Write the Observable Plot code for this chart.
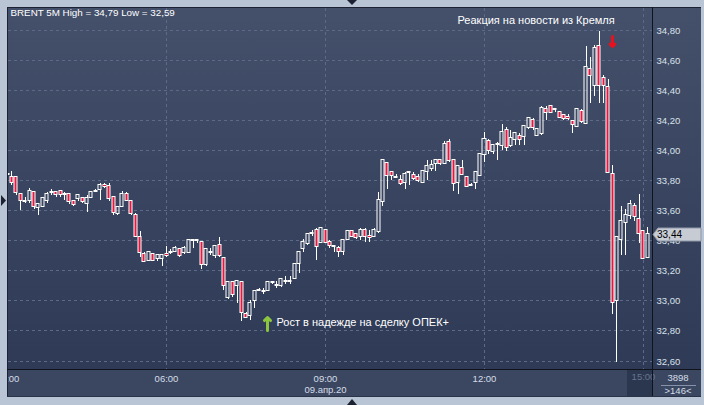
<!DOCTYPE html>
<html><head><meta charset="utf-8">
<script src="https://cdn.jsdelivr.net/npm/d3@7"></script>
<script src="https://cdn.jsdelivr.net/npm/@observablehq/plot@0.6"></script>
<style>
html,body{margin:0;padding:0;background:#b9c5d5;overflow:hidden;}
#chart{width:704px;height:405px;}
</style></head><body><div id="chart"></div>
<script>
// ---- data: BRENT 5-minute candles, 09.04.2020, 03:00 .. 15:05 ----
const startTime = Date.UTC(2020, 3, 9, 3, 0);
const stepMinutes = 5;
const opens = [33.84,33.82,33.82,33.71,33.66,33.67,33.72,33.62,33.63,33.67,
33.72,33.72,33.73,33.71,33.71,33.66,33.68,33.68,33.65,33.69,
33.73,33.74,33.77,33.76,33.69,33.58,33.63,33.71,33.66,33.57,
33.42,33.31,33.27,33.31,33.28,33.28,33.31,33.32,33.33,33.34,
33.32,33.32,33.40,33.40,33.39,33.24,33.32,33.30,33.37,33.28,
33.02,33.12,33.10,33.12,32.91,32.90,33.00,33.07,33.06,33.07,
33.12,33.10,33.10,33.13,33.13,33.15,33.25,33.35,33.38,33.45,
33.47,33.39,33.47,33.39,33.36,33.35,33.33,33.41,33.46,33.44,
33.43,33.47,33.43,33.43,33.46,33.66,33.91,33.85,33.82,33.80,
33.79,33.85,33.83,33.82,33.79,33.86,33.88,33.91,33.93,33.91,
34.05,33.93,33.79,33.88,33.82,33.77,33.79,33.83,33.97,34.06,
33.99,34.04,34.03,34.13,34.03,34.07,34.09,34.09,34.15,34.20,
34.10,34.11,34.27,34.29,34.27,34.25,34.23,34.22,34.19,34.16,
34.26,34.18,34.54,34.43,34.69,34.48,34.42,33.84,33.00,33.41,
33.52,33.57,33.63,33.54,33.46,33.29];
const highs = [33.85,33.86,33.82,33.71,33.69,33.75,33.72,33.65,33.68,33.72,
33.74,33.73,33.73,33.72,33.71,33.67,33.71,33.69,33.70,33.72,
33.74,33.78,33.78,33.78,33.69,33.62,33.73,33.72,33.66,33.58,
33.46,33.32,33.32,33.31,33.30,33.31,33.36,33.34,33.36,33.35,
33.36,33.40,33.40,33.41,33.39,33.35,33.35,33.36,33.42,33.29,
33.12,33.12,33.13,33.12,32.92,33.00,33.07,33.08,33.08,33.12,
33.13,33.13,33.15,33.16,33.16,33.25,33.33,33.41,33.45,33.47,
33.48,33.49,33.47,33.40,33.37,33.36,33.41,33.47,33.47,33.44,
33.48,33.48,33.47,33.48,33.72,33.93,33.92,33.86,33.84,33.83,
33.85,33.86,33.85,33.84,33.86,33.93,33.93,33.94,33.94,34.06,
34.07,33.93,33.89,33.93,33.82,33.78,33.86,33.98,34.12,34.07,
34.03,34.05,34.17,34.15,34.13,34.11,34.11,34.16,34.21,34.21,
34.14,34.29,34.29,34.30,34.28,34.25,34.24,34.24,34.20,34.27,
34.27,34.69,34.62,34.70,34.79,34.50,34.47,33.90,33.42,33.63,
33.61,33.67,33.65,33.71,33.46,33.49];
const lows = [33.83,33.77,33.70,33.60,33.65,33.65,33.61,33.57,33.62,33.65,
33.70,33.69,33.69,33.67,33.64,33.63,33.66,33.65,33.59,33.68,
33.72,33.67,33.75,33.66,33.57,33.57,33.63,33.67,33.57,33.42,
33.29,33.26,33.26,33.26,33.26,33.23,33.29,33.31,33.32,33.29,
33.31,33.32,33.35,33.38,33.21,33.23,33.30,33.28,33.29,33.07,
33.01,33.02,32.98,32.86,32.88,32.87,32.95,33.06,33.04,33.07,
33.11,33.08,33.09,33.11,33.11,33.15,33.18,33.32,33.37,33.43,
33.27,33.38,33.38,33.35,33.32,33.29,33.30,33.41,33.43,33.41,
33.40,33.39,33.39,33.42,33.45,33.63,33.74,33.80,33.81,33.77,
33.74,33.77,33.80,33.79,33.78,33.80,33.86,33.86,33.90,33.91,
33.92,33.73,33.71,33.83,33.76,33.76,33.74,33.83,33.92,33.97,
33.97,33.93,34.00,33.99,34.02,34.03,34.03,34.03,34.14,34.13,
34.10,34.10,34.20,34.25,34.25,34.21,34.20,34.20,34.11,34.16,
34.18,34.18,34.31,34.36,34.31,34.31,33.85,32.91,32.59,33.30,
33.30,33.54,33.53,33.38,33.28,33.29];
const closes = [33.84,33.79,33.72,33.67,33.66,33.73,33.63,33.64,33.68,33.71,
33.72,33.71,33.71,33.71,33.66,33.64,33.70,33.66,33.68,33.72,
33.73,33.77,33.76,33.68,33.59,33.62,33.71,33.67,33.58,33.43,
33.32,33.26,33.32,33.27,33.30,33.30,33.30,33.32,33.35,33.30,
33.35,33.40,33.40,33.40,33.24,33.34,33.32,33.36,33.30,33.10,
33.12,33.04,33.13,32.92,32.89,32.98,33.06,33.07,33.06,33.12,
33.12,33.10,33.14,33.13,33.13,33.24,33.32,33.39,33.44,33.45,
33.36,33.48,33.39,33.37,33.36,33.33,33.40,33.46,33.43,33.42,
33.47,33.43,33.42,33.47,33.67,33.93,33.83,33.83,33.82,33.78,
33.84,33.85,33.81,33.80,33.86,33.89,33.90,33.93,33.91,34.04,
33.93,33.78,33.89,33.84,33.76,33.77,33.85,33.97,34.07,34.00,
34.03,34.04,34.12,34.02,34.08,34.11,34.07,34.16,34.21,34.15,
34.14,34.28,34.25,34.25,34.27,34.22,34.21,34.21,34.17,34.27,
34.19,34.55,34.50,34.68,34.43,34.43,33.85,32.99,33.42,33.53,
33.57,33.64,33.56,33.45,33.28,33.44];

const priceTicks = [32.6,32.8,33.0,33.2,33.4,33.6,33.8,34.0,34.2,34.4,34.6,34.8];
const timeTickLabels = ["03:00","06:00","09:00","12:00"];
const dimTimeTickLabels = ["15:00"];
const gridTimeLabels = ["06:00","09:00","12:00","15:00"];
const dateLabel = "09.апр.20";
const headerText = "BRENT 5M High = 34,79 Low = 32,59";
const noteTexts = ["Реакция на новости из Кремля", "Рост в надежде на сделку ОПЕК+"];
const noteTimes = ["11:29", "08:05"];
const notePrices = [34.863, 32.856];
const arrowTimes = ["14:25", "07:54"];
const arrowTails = [34.760, 32.805];
const arrowTips = [34.690, 32.892];
const arrowColors = ["#e8121e", "#8cc63f"];
const barCount = "3898";
const visibleCount = ">146<";

// ---- build ----
const T = s => new Date(Date.UTC(2020, 3, 9, +s.slice(0, 2), +s.slice(3, 5)));
const candles = opens.map((o, i) => ({
  date: new Date(startTime + i * stepMinutes * 60000),
  open: o, high: highs[i], low: lows[i], close: closes[i],
  top: Math.max(o, closes[i]), bot: Math.min(o, closes[i])
}));
const halfBody = 101900;
const notes = noteTexts.map((t, i) => ({text: t, date: T(noteTimes[i]), price: notePrices[i]}));
const arrows = arrowTimes.map((t, i) => ({date: T(t), y1: arrowTails[i], y2: arrowTips[i], color: arrowColors[i]}));
const fmtComma = d => d.toFixed(2).replace(".", ",");
const fmtTime = d => { const s = d3.utcFormat("%H:%M")(d); return s === "09:00" ? s + "\n" + dateLabel : s; };
const FONT = "'Liberation Sans', Arial, sans-serif";
const RED = "#e6183f";

const plot = Plot.plot({
  width: 704, height: 405,
  marginLeft: 8, marginRight: 52, marginTop: 8, marginBottom: 36,
  style: {background: "transparent", fontFamily: FONT, fontSize: "9.5px", color: "#dbe1ea"},
  x: {type: "utc", round: true, domain: [new Date(Date.UTC(2020,3,9,3,1,6)), new Date(Date.UTC(2020,3,9,15,10,12))]},
  y: {round: true, domain: [32.544, 34.943]},
  marks: [
    Plot.ruleY(priceTicks, {stroke: "#5c6a88", strokeDasharray: "3,3"}),
    Plot.ruleX(gridTimeLabels.map(T), {stroke: "#5c6a88", strokeDasharray: "3,3"}),
    Plot.ruleX(candles, {x: "date", y1: "top", y2: "high", stroke: "white"}),
    Plot.ruleX(candles, {x: "date", y1: "low", y2: "bot", stroke: "white"}),
    Plot.rect(candles.filter(d => d.close < d.open), {
      x1: d => new Date(+d.date - halfBody), x2: d => new Date(+d.date + halfBody),
      y1: "open", y2: "close", fill: RED, stroke: "white", strokeWidth: 1,
      insetTop: -0.5, insetBottom: -0.5}),
    Plot.rect(candles.filter(d => d.close >= d.open), {
      x1: d => new Date(+d.date - halfBody), x2: d => new Date(+d.date + halfBody),
      y1: "open", y2: "close", fill: "none", stroke: "white", strokeWidth: 1,
      insetTop: -0.5, insetBottom: -0.5}),
    Plot.text(notes, {x: "date", y: "price", text: "text", textAnchor: "start", fill: "white", fontSize: 11}),
    Plot.arrow(arrows, {x1: "date", x2: "date", y1: "y1", y2: "y2", stroke: "color", strokeWidth: 3, headLength: 6, headAngle: 90}),
    Plot.text([headerText], {frameAnchor: "top-left", dx: 2, dy: 1, lineAnchor: "top", textAnchor: "start", fill: "white", fontSize: 9.8}),
    Plot.axisY(priceTicks, {anchor: "right", tickSize: 0, tickPadding: 4, tickFormat: fmtComma, fill: "#dbe1ea", fontSize: 9.5}),
    Plot.axisX(timeTickLabels.map(T), {anchor: "bottom", tickSize: 0, tickPadding: 4, tickFormat: fmtTime, fill: "#d6dde8", fontSize: 9.5, lineHeight: 1.2}),
    Plot.axisX(dimTimeTickLabels.map(T), {anchor: "bottom", tickSize: 0, tickPadding: 4, tickFormat: fmtTime, fill: "#66758f", fontSize: 9.5})
  ]
});
document.getElementById("chart").appendChild(plot);

// ---- chrome (panel styling) ----
const svg = d3.select(plot);
svg.style("background", "linear-gradient(#45516b, #2c3854)");
const first = plot.firstChild;
svg.insert("rect", () => first).attr("x", 8).attr("y", 369).attr("width", 693).attr("height", 28).attr("fill", "#3b4761");
svg.insert("rect", () => first).attr("x", 627).attr("y", 369).attr("width", 25).attr("height", 28).attr("fill", "#2b374f");

const frameColor = "#b9c5d5";
const g = svg.append("g").attr("text-anchor", "start");
g.append("rect").attr("x", 0).attr("y", 0).attr("width", 704).attr("height", 7).attr("fill", frameColor);
g.append("rect").attr("x", 0).attr("y", 0).attr("width", 7).attr("height", 405).attr("fill", frameColor);
g.append("rect").attr("x", 701).attr("y", 0).attr("width", 3).attr("height", 405).attr("fill", frameColor);
g.append("rect").attr("x", 0).attr("y", 397).attr("width", 704).attr("height", 8).attr("fill", frameColor);
const line = (x1, y1, x2, y2, c) => g.append("line").attr("x1", x1).attr("y1", y1).attr("x2", x2).attr("y2", y2).attr("stroke", c).attr("stroke-width", 1);
line(7, 7.5, 701, 7.5, "#1c2232");
line(7.5, 7, 7.5, 397, "#1c2232");
line(652.5, 7, 652.5, 397, "#10131c");
line(7, 369.5, 701, 369.5, "#10131c");
line(7, 396.5, 701, 396.5, "#2a3348");
// scroll markers
g.append("path").attr("d", "M347,0 L357,0 L352,5 Z").attr("fill", "#1c2232");
g.append("path").attr("d", "M347,405 L357,405 L352,399 Z").attr("fill", "#1c2232");
g.append("path").attr("d", "M1,195 L6,200.5 L1,206 Z").attr("fill", "#1c2232");

// current price tag
const yS = plot.scale("y");
const last = closes[closes.length - 1];
const yp = yS.apply(last) + 0.5;
g.append("path").attr("d", `M653,${yp} L658,${yp - 6.5} L701,${yp - 6.5} L701,${yp + 6.5} L658,${yp + 6.5} Z`)
  .attr("fill", "#c6cbd4").attr("stroke", "#8f98a8");
g.append("text").attr("x", 657).attr("y", yp).attr("dy", "0.36em").attr("text-anchor", "start").attr("font-family", FONT).attr("font-size", 10).attr("fill", "#000").text(fmtComma(last));

// bar counter
g.append("text").attr("x", 678).attr("y", 381).attr("text-anchor", "middle").attr("font-family", FONT).attr("font-size", 9.5).attr("fill", "#d6dde8").text(barCount);
line(661, 385.5, 696, 385.5, "#8592aa");
g.append("text").attr("x", 678).attr("y", 394).attr("text-anchor", "middle").attr("font-family", FONT).attr("font-size", 9.5).attr("fill", "#d6dde8").text(visibleCount);
</script></body></html>
